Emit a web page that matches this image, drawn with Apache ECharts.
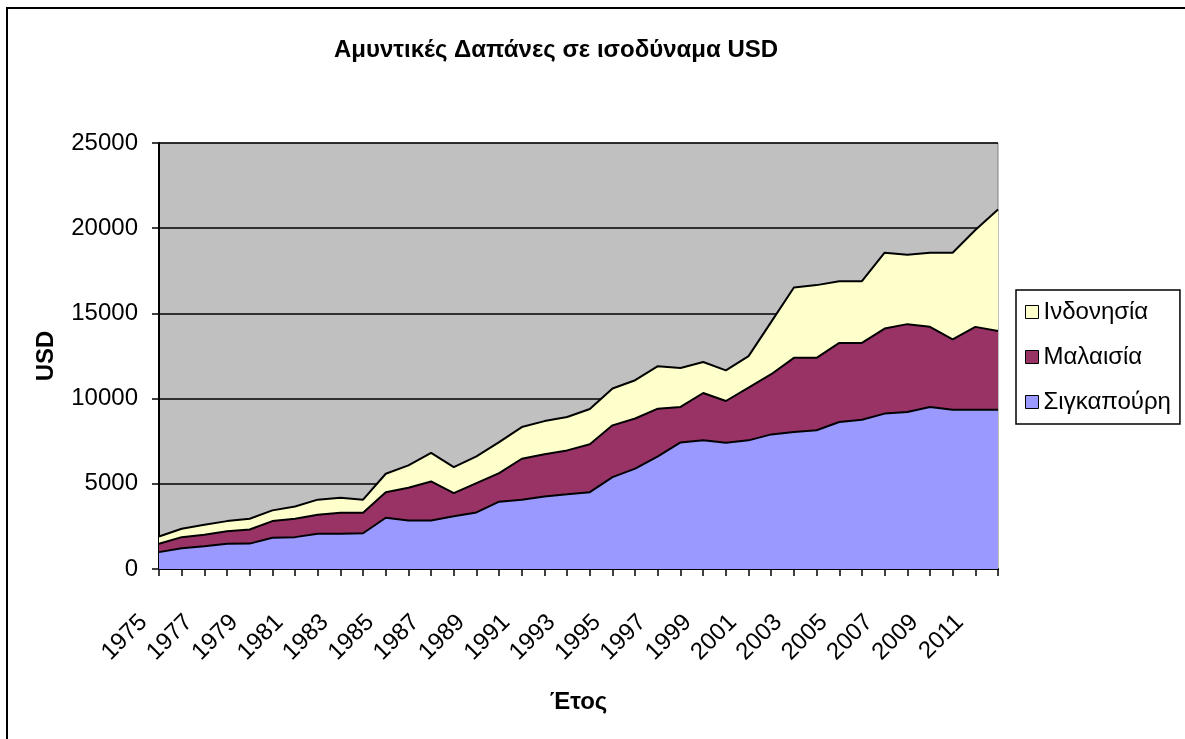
<!DOCTYPE html>
<html>
<head>
<meta charset="utf-8">
<script src="https://cdn.jsdelivr.net/npm/echarts@6/dist/echarts.min.js"></script>
<style>
  html, body { margin: 0; padding: 0; background: #fff; }
  #chart { width: 1185px; height: 739px; }
</style>
</head>
<body>
<div id="chart"></div>
<script>
const years = [
  '1975', '1976', '1977', '1978', '1979', '1980', '1981', '1982', '1983', '1984',
  '1985', '1986', '1987', '1988', '1989', '1990', '1991', '1992', '1993', '1994',
  '1995', '1996', '1997', '1998', '1999', '2000', '2001', '2002', '2003', '2004',
  '2005', '2006', '2007', '2008', '2009', '2010', '2011', '2012'
];

// Σιγκαπούρη (κάτω στρώμα)
const singapore = [
  990, 1220, 1340, 1480, 1490, 1830, 1870, 2070, 2070, 2100,
  3010, 2850, 2850, 3090, 3320, 3950, 4070, 4260, 4380, 4510,
  5390, 5890, 6610, 7430, 7550, 7410, 7550, 7900, 8040, 8140,
  8630, 8760, 9120, 9210, 9510, 9350, 9350, 9350
];

const malaysia = [
  490, 650, 670, 740, 830, 980, 1080, 1110, 1230, 1200,
  1500, 1920, 2290, 1360, 1720, 1680, 2400, 2470, 2580, 2810,
  3040, 2940, 2800, 2080, 2780, 2450, 3100, 3530, 4350, 4250,
  4640, 4510, 4990, 5160, 4700, 4130, 4860, 4620
];

const indonesia = [
  430, 490, 590, 590, 630, 630, 720, 890, 880, 770,
  1080, 1310, 1680, 1530, 1570, 1820, 1860, 1950, 1960, 2070,
  2160, 2250, 2490, 2290, 1820, 1800, 1840, 3070, 4130, 4270,
  3620, 3620, 4450, 4070, 4350, 5080, 5680, 7130
];

const FONT = '"Liberation Sans", Arial, sans-serif';

const chart = echarts.init(document.getElementById('chart'));

function areaSeries(name, data, color) {
  return {
    name: name,
    type: 'line',
    stack: 'total',
    symbol: 'none',
    data: data,
    itemStyle: { color: color },
    lineStyle: { color: '#000', width: 2 },
    areaStyle: { color: color, opacity: 1 },
    emphasis: { disabled: true },
  };
}

const option = {
  animation: false,
  textStyle: { fontFamily: FONT },
  graphic: [
    {
      type: 'rect',
      shape: { x: 7, y: 8, width: 1200, height: 800 },
      style: { fill: 'none', stroke: '#000', lineWidth: 2 },
      silent: true,
    },
  ],
  title: {
    text: 'Αμυντικές Δαπάνες σε ισοδύναμα USD',
    left: 334,
    top: 38,
    padding: 0,
    textStyle: { fontFamily: FONT, fontSize: 24, fontWeight: 'bold', color: '#000' },
  },
  legend: {
    orient: 'vertical',
    left: 1016,
    top: 290,
    padding: [10, 9, 10, 9],
    itemGap: 21,
    itemWidth: 13,
    itemHeight: 13,
    icon: 'rect',
    backgroundColor: '#fff',
    borderColor: '#000',
    borderWidth: 1.5,
    borderRadius: 0,
    data: ['Ινδονησία', 'Μαλαισία', 'Σιγκαπούρη'],
    itemStyle: { borderColor: '#000', borderWidth: 1 },
    textStyle: { fontFamily: FONT, fontSize: 24, color: '#000' },
  },
  grid: {
    left: 159,
    top: 143,
    width: 839,
    height: 426,
    containLabel: false,
    show: true,
    backgroundColor: '#C0C0C0',
    borderColor: '#808080',
    borderWidth: 1,
  },
  xAxis: {
    type: 'category',
    data: years,
    boundaryGap: false,
    name: 'Έτος',
    nameLocation: 'middle',
    nameGap: 121,
    nameTextStyle: { fontFamily: FONT, fontSize: 24, fontWeight: 'bold', color: '#000' },
    axisLine: { show: true, lineStyle: { color: '#000', width: 2 } },
    axisTick: { show: true, interval: 0, length: 7, lineStyle: { color: '#000', width: 1.5 } },
    axisLabel: {
      interval: 1,
      rotate: 45,
      margin: 34,
      padding: [0, 22, 0, 0],
      color: '#000',
      fontSize: 24,
      fontFamily: FONT,
    },
    splitLine: { show: false },
  },
  yAxis: {
    type: 'value',
    min: 0,
    max: 25000,
    interval: 5000,
    name: 'USD',
    nameLocation: 'middle',
    nameRotate: 90,
    nameGap: 101,
    nameTextStyle: { fontFamily: FONT, fontSize: 24, fontWeight: 'bold', color: '#000' },
    axisLine: { show: true, lineStyle: { color: '#000', width: 2 } },
    axisTick: { show: true, length: 7, lineStyle: { color: '#000', width: 1.5 } },
    axisLabel: {
      margin: 21,
      color: '#000',
      fontSize: 24,
      fontFamily: FONT,
      formatter: (val) => String(val),
    },
    splitLine: { show: true, lineStyle: { color: '#000', width: 1.5 } },
  },
  series: [
    areaSeries('Σιγκαπούρη', singapore, '#9999FF'),
    areaSeries('Μαλαισία', malaysia, '#993366'),
    areaSeries('Ινδονησία', indonesia, '#FFFFCC'),
  ],
};

chart.setOption(option);
</script>
</body>
</html>
